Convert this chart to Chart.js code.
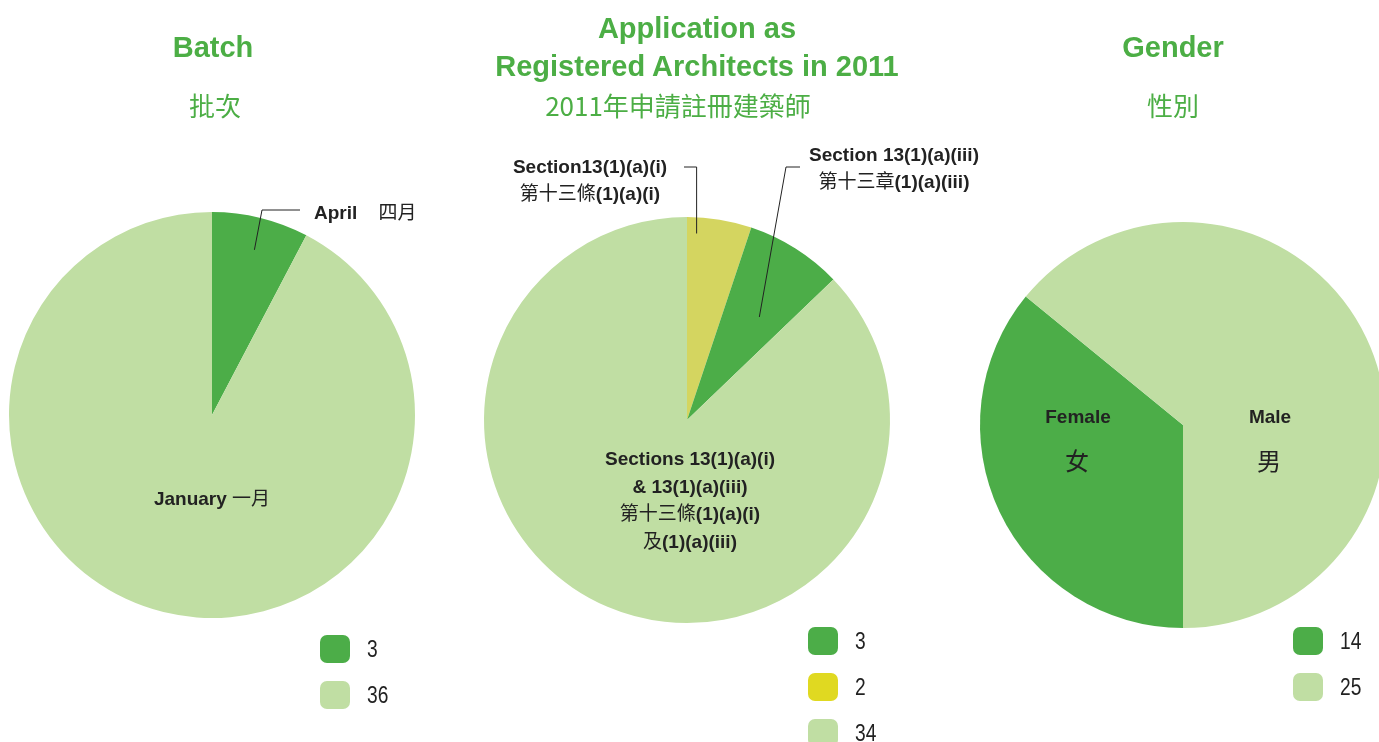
<!DOCTYPE html>
<html>
<head>
<meta charset="utf-8">
<script src="https://cdn.jsdelivr.net/npm/chart.js@4"></script>
<style>
  html, body { margin:0; padding:0; background:#fff; }
  body { width:1379px; height:742px; overflow:hidden; position:relative;
         font-family:"Liberation Sans", Arial, "Noto Sans CJK TC", sans-serif; }
  canvas { position:absolute; left:0; top:0; }
  .t { position:absolute; transform:translate(-50%,-50%); white-space:nowrap; text-align:center; }
  .title { color:#4cae45; font-weight:bold; font-size:29px; line-height:38px; }
  .sub { color:#4cae45; font-size:26px; font-family:"Noto Sans CJK TC", sans-serif; }
  .lab { color:#222; font-weight:bold; font-size:19px; line-height:27px; }
  .zh { font-weight:normal; }
  .big { font-weight:normal; font-size:24px; font-family:"Noto Sans CJK TC", sans-serif; }
  .legend { position:absolute; }
  .legend .row { position:relative; height:46px; }
  .legend .sw { position:absolute; left:0; top:0; width:30px; height:28px; border-radius:7px; }
  .legend .num { position:absolute; left:47px; top:-1px; font-size:24px; line-height:30px; color:#222;
                 transform:scaleX(0.8); transform-origin:left center; }
</style>
</head>
<body>
<canvas id="c1" width="1400" height="742"></canvas>
<canvas id="c2" width="1400" height="742"></canvas>
<canvas id="c3" width="1400" height="742"></canvas>

<div class="t title" style="left:213px;top:47px">Batch</div>
<div class="t sub" style="left:215px;top:104px">批次</div>
<div class="t title" style="left:697px;top:47px">Application as<br>Registered Architects in 2011</div>
<div class="t sub" style="left:678px;top:104px">2011年申請註冊建築師</div>
<div class="t title" style="left:1173px;top:47px">Gender</div>
<div class="t sub" style="left:1173px;top:104px">性別</div>

<div class="lab" style="position:absolute;left:314px;top:199px;white-space:nowrap">April&nbsp;&nbsp;&nbsp; <span class="zh">四月</span></div>
<div class="t lab" style="left:212px;top:498px">January <span class="zh">一月</span></div>
<div class="t lab" style="left:590px;top:180px">Section13(1)(a)(i)<br><span class="zh">第十三條</span>(1)(a)(i)</div>
<div class="t lab" style="left:894px;top:168px">Section 13(1)(a)(iii)<br><span class="zh">第十三章</span>(1)(a)(iii)</div>
<div class="t lab" style="left:690px;top:500px;line-height:27.7px">Sections 13(1)(a)(i)<br>&amp; 13(1)(a)(iii)<br><span class="zh">第十三條</span>(1)(a)(i)<br><span class="zh">及</span>(1)(a)(iii)</div>
<div class="t lab" style="left:1078px;top:416px">Female</div>
<div class="t big" style="left:1077px;top:459px;color:#222">女</div>
<div class="t lab" style="left:1270px;top:416px">Male</div>
<div class="t big" style="left:1269px;top:459px;color:#222">男</div>

<div class="legend" id="lg1" style="left:320px;top:635px"></div>
<div class="legend" id="lg2" style="left:808px;top:627px"></div>
<div class="legend" id="lg3" style="left:1293px;top:627px"></div>

<script>
// colours
const DARK = '#4cad48';
const LIGHT = '#c0dea3';
const YELLOW = '#d4d560';
const YELLOW_KEY = '#e0d921';

// Batch
const batchLabels = ['April', 'January'];
const batchValues = [3, 36];
const batchColors = [DARK, LIGHT];

// Application sections (yellow, dark, light)
const sectionLabels = ['Section 13(1)(a)(i)', 'Section 13(1)(a)(iii)', 'Sections 13(1)(a)(i) & 13(1)(a)(iii)'];
const sectionValues = [2, 3, 34];
const sectionColors = [YELLOW, DARK, LIGHT];
const sectionKeyOrder = [1, 0, 2];
const sectionKeyColors = [YELLOW_KEY, DARK, LIGHT];

// Gender
const genderLabels = ['Female', 'Male'];
const genderValues = [14, 25];
const genderColors = [DARK, LIGHT];

const W = 1400, H = 742, R = 203;

// leader lines: slice index, position along slice (t), radius fraction, then elbow & end
const leaders1 = [{ i:0, t:0.52, rf:0.84, ex:262, ey:210, tx:300 }];
const leaders2 = [
  { i:0, t:0.16, rf:0.92, ex:null, ey:167, tx:684 },
  { i:1, t:0.6, rf:0.62, ex:786, ey:167, tx:800 }
];

const leaderPlugin = {
  id: 'leaders',
  afterDraw(chart, args, opts) {
    const list = opts.lines || [];
    const ctx = chart.ctx;
    const arcs = chart.getDatasetMeta(0).data;
    ctx.save();
    ctx.strokeStyle = '#222';
    ctx.lineWidth = 1;
    list.forEach(l => {
      const a = arcs[l.i];
      const ang = a.startAngle + (a.endAngle - a.startAngle) * l.t;
      const px = a.x + Math.cos(ang) * a.outerRadius * l.rf;
      const py = a.y + Math.sin(ang) * a.outerRadius * l.rf;
      const ex = l.ex == null ? px : l.ex;
      ctx.beginPath();
      ctx.moveTo(px, py);
      ctx.lineTo(ex, l.ey);
      ctx.lineTo(l.tx, l.ey);
      ctx.stroke();
    });
    ctx.restore();
  }
};

function pie(id, labels, values, colors, cx, cy, rotation, lines) {
  return new Chart(document.getElementById(id), {
    type: 'pie',
    data: { labels, datasets: [{ data: values, backgroundColor: colors, borderWidth: 0, hoverOffset: 0 }] },
    options: {
      responsive: false,
      animation: false,
      rotation,
      layout: { padding: { left: cx - R, right: W - cx - R, top: cy - R, bottom: H - cy - R } },
      plugins: { legend: { display: false }, tooltip: { enabled: false }, leaders: { lines } },
      events: []
    },
    plugins: [leaderPlugin]
  });
}

pie('c1', batchLabels, batchValues, batchColors, 212, 415, 0, leaders1);
pie('c2', sectionLabels, sectionValues, sectionColors, 687, 420, 0, leaders2);
pie('c3', genderLabels, genderValues, genderColors, 1183, 425, 180, []);

function legend(id, values, colors, order) {
  const el = document.getElementById(id);
  (order || values.map((v, i) => i)).forEach(i => {
    const row = document.createElement('div');
    row.className = 'row';
    row.innerHTML = `<div class="sw" style="background:${colors[i]}"></div><div class="num">${values[i]}</div>`;
    el.appendChild(row);
  });
}
legend('lg1', batchValues, batchColors);
legend('lg2', sectionValues, sectionKeyColors, sectionKeyOrder);
legend('lg3', genderValues, genderColors);
</script>
</body>
</html>
